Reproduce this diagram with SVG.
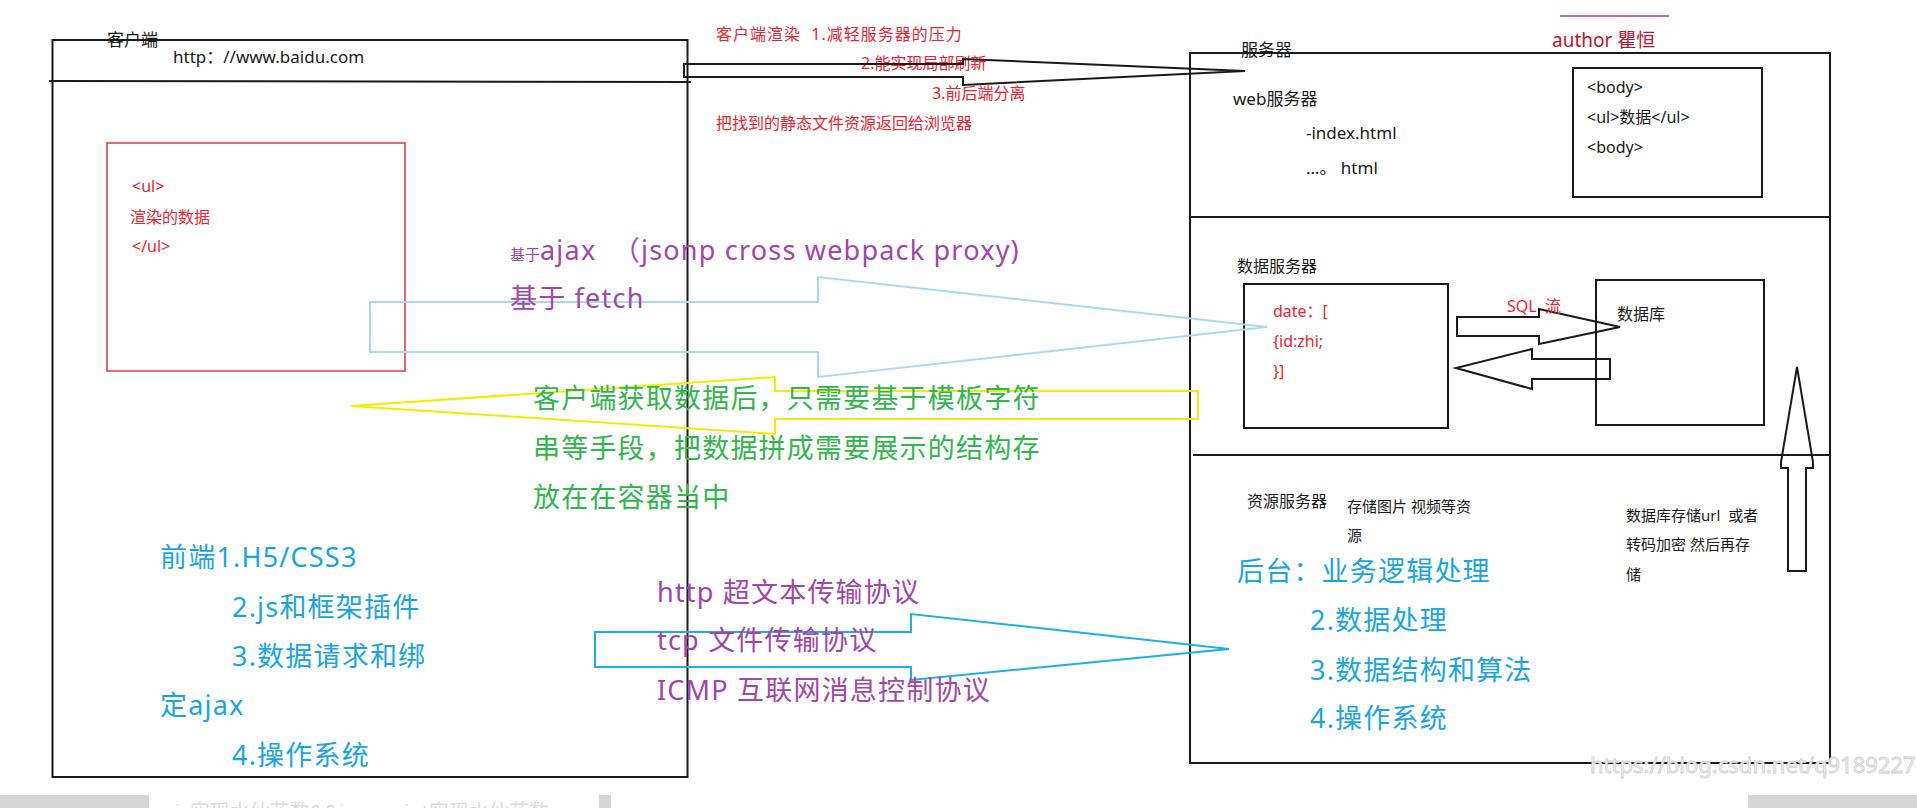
<svg xmlns="http://www.w3.org/2000/svg" width="1917" height="808" viewBox="0 0 1917 808">
<style>
text{font-family:"Noto Sans","Noto Sans CJK SC",sans-serif;white-space:pre}
.k{fill:none;stroke:#1a1a1a;stroke-width:2}
.kt{fill:#1a1a1a}
.red{fill:#f5222d}
.blue{fill:#16a6e6}
.purp{fill:#a246ac}
.green{fill:#2fb84a}
.s14{font-size:15px}
.s16{font-size:16px}
.s17{font-size:17px}
.big{font-size:27px;letter-spacing:1.2px}
.arr{fill:none;stroke-width:2;stroke-linejoin:miter}
</style>
<rect width="1917" height="808" fill="#ffffff"/>

<g id="client">
<rect class="k" x="52.5" y="40" width="635" height="737"/>
<line class="k" x1="49" y1="81" x2="691" y2="82"/>
<text class="kt s17" x="107" y="46">客户端</text>
<text class="kt s17" x="173" y="63">http：//www.baidu.com</text>
</g>

<g id="render-box">
<rect x="107" y="143" width="298" height="228" fill="none" stroke="#f0333f" stroke-width="1.5"/>
<text class="red s16" x="132" y="192">&lt;ul&gt;</text>
<text class="red s16" x="130" y="223">渲染的数据</text>
<text class="red s16" x="132" y="252">&lt;/ul&gt;</text>
</g>

<g id="frontend-notes">
<text class="blue big" x="160" y="567">前端1.H5/CSS3</text>
<text class="blue big" x="232" y="617">2.js和框架插件</text>
<text class="blue big" x="232" y="666">3.数据请求和绑</text>
<text class="blue big" x="160" y="715">定ajax</text>
<text class="blue big" x="232" y="765">4.操作系统</text>
</g>

<g id="render-notes">
<text class="red s16" x="716" y="40" letter-spacing="1">客户端渲染  1.减轻服务器的压力</text>
<text class="red s16" x="861" y="69">2.能实现局部刷新</text>
<text class="red s16" x="932" y="99">3.前后端分离</text>
<text class="red s16" x="716" y="129">把找到的静态文件资源返回给浏览器</text>
</g>

<g id="author">
<line x1="1560" y1="16" x2="1669" y2="16" stroke="#c462d4" stroke-width="2"/>
<text x="1552" y="47" font-size="19" fill="#c8102e">author 瞿恒</text>
</g>

<g id="server">
<rect class="k" x="1190" y="53" width="640" height="710"/>
<line class="k" x1="1190" y1="217" x2="1830" y2="217"/>
<line class="k" x1="1193" y1="455" x2="1831" y2="455"/>
<text class="kt s17" x="1241" y="56">服务器</text>
</g>

<g id="web-server">
<text class="kt s17" x="1233" y="105">web服务器</text>
<text class="kt s17" x="1306" y="139">-index.html</text>
<text class="kt s17" x="1306" y="174">…。 html</text>
</g>

<g id="body-box">
<rect class="k" x="1573" y="68" width="189" height="129"/>
<text class="kt s16" x="1587" y="93">&lt;body&gt;</text>
<text class="kt s16" x="1587" y="123">&lt;ul&gt;数据&lt;/ul&gt;</text>
<text class="kt s16" x="1587" y="153">&lt;body&gt;</text>
</g>

<g id="data-server">
<text class="kt s16" x="1237" y="272">数据服务器</text>
<rect class="k" x="1244" y="284" width="204" height="144"/>
<text class="red s16" x="1273" y="317">date：[</text>
<text class="red s16" x="1273" y="347">{id:zhi;</text>
<text class="red s16" x="1273" y="377">}]</text>
</g>

<g id="database">
<rect class="k" x="1596" y="280" width="168" height="145"/>
<text class="kt s16" x="1617" y="320">数据库</text>
</g>

<g id="resource-server">
<text class="kt s16" x="1247" y="507">资源服务器</text>
<text class="kt s14" x="1347" y="512">存储图片 视频等资</text>
<text class="kt s14" x="1347" y="541">源</text>
<text class="kt s14" x="1626" y="521">数据库存储url  或者</text>
<text class="kt s14" x="1626" y="550">转码加密 然后再存</text>
<text class="kt s14" x="1626" y="580">储</text>
</g>

<g id="backend-notes">
<text class="blue big" x="1237" y="581">后台：业务逻辑处理</text>
<text class="blue big" x="1310" y="630">2.数据处理</text>
<text class="blue big" x="1310" y="680">3.数据结构和算法</text>
<text class="blue big" x="1310" y="728">4.操作系统</text>
</g>

<g id="connectors">
<polygon class="arr" stroke="#1a1a1a" points="684,64 963,64 963,59 1245,71 963,85 963,77 684,77"/>
<polygon class="arr" stroke="#a8dcec" points="370,302 818,302 818,277 1267,327 818,377 818,352 370,352"/>
<polygon class="arr" stroke="#f5ec00" points="1198,391 775,391 775,377 351,406 775,434 775,419 1198,419"/>
<polygon class="arr" stroke="#1ab0ea" points="595,632 911,632 911,614 1229,649 911,680 911,667 595,667"/>
<polygon class="arr" stroke="#1a1a1a" points="1457,317 1539,317 1539,309 1620,327 1539,344 1539,336 1457,336"/>
<polygon class="arr" stroke="#1a1a1a" points="1610,359 1532,359 1532,349 1456,368 1532,389 1532,379 1610,379"/>
<polygon class="arr" stroke="#1a1a1a" points="1788,571 1806,571 1806,468 1813,468 1813,462 1797,367 1781,462 1781,468 1788,468"/>
<text class="red s16" x="1507" y="312">SQL  流</text>
</g>

<g id="protocol-notes">
<text class="purp" x="510" y="260" font-size="15">基于<tspan font-size="27" letter-spacing="1.2">ajax  （jsonp cross webpack proxy)</tspan></text>
<text class="purp big" x="510" y="308">基于 fetch</text>
<text class="green big" x="533" y="408">客户端获取数据后，只需要基于模板字符</text>
<text class="green big" x="533" y="458">串等手段，把数据拼成需要展示的结构存</text>
<text class="green big" x="533" y="507">放在在容器当中</text>
<text class="purp big" x="657" y="602">http 超文本传输协议</text>
<text class="purp big" x="657" y="650">tcp 文件传输协议</text>
<text class="purp big" x="657" y="700">ICMP 互联网消息控制协议</text>
</g>

<g id="page-footer">
<rect x="0" y="795" width="149" height="13" fill="#d6d6d6"/>
<rect x="599" y="795" width="12" height="13" fill="#d6d6d6"/>
<rect x="1748" y="795" width="169" height="13" fill="#d6d6d6"/>
<text x="175" y="819" font-size="20" fill="#dcdcdc">js实现水仙花数&amp;&amp;javascript实现水仙花数</text>
<text x="1590" y="773" font-size="22" fill="#f2f2f2" stroke="#d0d0d0" stroke-width="0.8" font-family="Liberation Sans, sans-serif">https://blog.csdn.net/q9189227</text>
</g>
</svg>
